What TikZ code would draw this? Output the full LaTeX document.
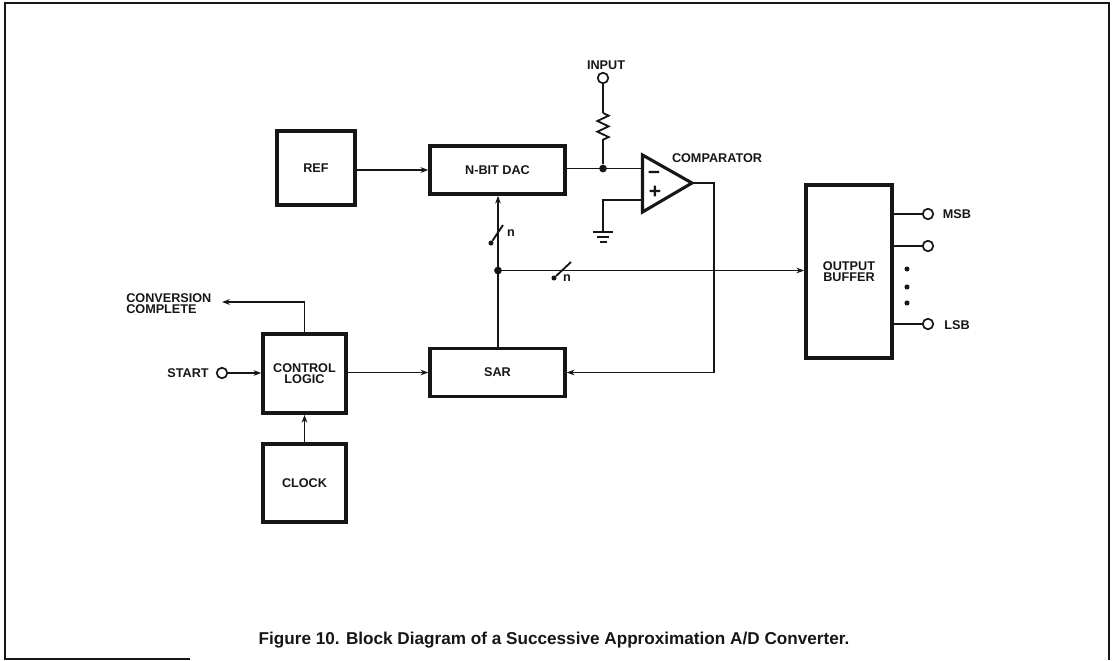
\documentclass[tikz,border=0pt]{standalone}
\usepackage{fontspec}
\setmainfont{Liberation Sans}
\usetikzlibrary{
arrows.meta,
positioning,
decorations.pathmorphing,
calc
}
\definecolor{inkblack}{HTML}{161616}

\tikzset{
  block/.style={draw=inkblack, line width=2.6pt, align=center, inner sep=0pt,
    font=\fontsize{9}{7.8}\selectfont\bfseries, text=inkblack},
  lab/.style={inner sep=0pt, align=center, font=\fontsize{9}{7.8}\selectfont\bfseries, text=inkblack},
  wire/.style={draw=inkblack, line width=1.3pt},
  sig/.style={wire, -{Stealth[length=5.5pt, width=4pt]}},
  pin/.style={circle, draw=inkblack, line width=1.2pt, minimum size=7.5pt, inner sep=0pt},
  jct/.style={circle, fill=inkblack, minimum size=5.5pt, inner sep=0pt},
  dotmark/.style={circle, fill=inkblack, minimum size=3.6pt, inner sep=0pt},
}

\begin{document}
\begin{tikzpicture}[x=0.025cm, y=-0.025cm]
\useasboundingbox (0,0) rectangle (1114,660);

% Frame
\draw[inkblack, line width=0.9pt] (190,659) -- (5,659) -- (5,3) -- (1109,3) -- (1109,660);

% Blocks
\node[block, minimum width=1.95cm, minimum height=1.85cm] (ref) at (316,168) {REF};
\node[block, minimum width=3.37cm, minimum height=1.2cm] (dac) at (497.5,170) {N-BIT DAC};
\node[block, minimum width=3.37cm, minimum height=1.2cm] (sar) at (497.5,372.5) {SAR};
\node[block, minimum width=2.07cm, minimum height=1.98cm] (ctrl) at (304.5,373.5) {CONTROL\\LOGIC};
\node[block, minimum width=2.07cm, minimum height=1.95cm] (clock) at (304.5,483) {CLOCK};
\node[block, minimum width=2.15cm, minimum height=4.33cm] (obuf) at (849,271.5) {OUTPUT\\BUFFER};

% Comparator
\coordinate (ctop) at (642.5,155);
\coordinate (cbot) at (642.5,212);
\coordinate (ctip) at (692,183);
\coordinate (cminus) at (642.5,168.5);
\coordinate (cplus) at (642.5,200);
\draw[inkblack, line width=2.2pt, line join=miter] (ctop) -- (ctip) -- (cbot) -- cycle;
\node[lab, font=\fontsize{15}{15}\selectfont\bfseries] (minussign) at (654,175) {−};
\node[lab, font=\fontsize{15}{15}\selectfont\bfseries] (plussign) at (655,192) {+};
\node[lab] (complab) at (717,158) {COMPARATOR};

% Input and resistor
\node[pin] (inpin) at (603,78) {};
\node[lab] (inlab) at (606,65) {INPUT};
\node[jct] (sumjct) at (603,168.5) {};
\coordinate (restop) at (603,113);
\coordinate (resbot) at (603,145);
\draw[wire] (inpin) -- (restop);
\draw[wire, decorate, decoration={zigzag, segment length=7.6pt, amplitude=4pt}] (restop) -- (resbot);
\draw[wire] (resbot) -- (sumjct);
\draw[wire] (dac.east |- sumjct) -- (sumjct) -- (cminus);

% Ground
\coordinate (gndtop) at (603,232);
\draw[wire] (cplus) -- (603,200) -- (gndtop);
\draw[inkblack, line width=1.3pt] (593,232) -- (613,232);
\draw[inkblack, line width=1.3pt] (597,237) -- (609,237);
\draw[inkblack, line width=1.3pt] (600,242) -- (607,242);

% Main signal path
\draw[sig] (ref.east |- dac.west) -- (dac.west);
\node[jct] (busjct) at (498,270.5) {};
\draw[sig] (sar.north -| busjct) -- (dac.south -| busjct);
\draw[sig] (busjct) -- (obuf.west |- busjct);
\draw[wire] (ctip) -- (714,183) -- (714,372.5);
\draw[sig] (714,372.5) -- (sar.east);
\draw[sig] (ctrl.east |- sar.west) -- (sar.west);
\draw[sig] (clock.north) -- (ctrl.south);

% Bus width marks
\node[dotmark] (busdotv) at (491,243) {};
\draw[wire] (busdotv) -- (503,225);
\node[lab] (busnv) at (511,233) {n};
\node[dotmark] (busdoth) at (554,278) {};
\draw[wire] (busdoth) -- (571,262);
\node[lab] (busnh) at (567,278) {n};

% Start and conversion complete
\node[pin] (startpin) at (222,373) {};
\node[lab, anchor=east] (startlab) at (209,373) {START};
\draw[sig] (startpin) -- (ctrl.west |- startpin);
\node[lab, anchor=west, align=left] (donelab) at (126,304) {CONVERSION\\COMPLETE};
\coordinate (doneend) at (222,302);
\draw[sig] (ctrl.north) -- (ctrl.north |- doneend) -- (doneend);

% Output pins
\node[pin] (msbpin) at (928,214) {};
\node[pin] (nextpin) at (928,246) {};
\node[pin] (lsbpin) at (928,324) {};
\draw[wire] (obuf.east |- msbpin) -- (msbpin);
\draw[wire] (obuf.east |- nextpin) -- (nextpin);
\draw[wire] (obuf.east |- lsbpin) -- (lsbpin);
\node[lab] (msblab) at (957,214) {MSB};
\node[lab] (lsblab) at (957,325) {LSB};
\node[dotmark] (dota) at (907,269) {};
\node[dotmark] (dotb) at (907,287) {};
\node[dotmark] (dotc) at (907,303) {};

% Caption
\node[inner sep=0pt, font=\fontsize{12.2}{14}\selectfont\bfseries, text=inkblack] (caption) at (554,640)
  {Figure 10. Block Diagram of a Successive Approximation A/D Converter.};
\end{tikzpicture}
\end{document}
